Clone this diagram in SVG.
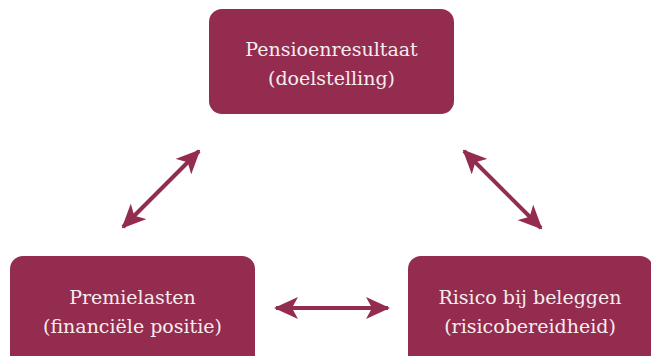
<svg xmlns="http://www.w3.org/2000/svg" width="651" height="356" viewBox="0 0 651 356">
<style>
.box{fill:#932c4e;}
.t{font-family:'DejaVu Serif',serif;font-size:19px;fill:#f6ecef;text-anchor:middle;}
.c{stroke:#932c4e;stroke-width:4;fill:none;marker-start:url(#ah);marker-end:url(#ah);}
</style>
<defs>
<marker id="ah" viewBox="0 0 24 22" refX="22" refY="11" markerWidth="24" markerHeight="22" markerUnits="userSpaceOnUse" orient="auto-start-reverse">
<path d="M0,0 L24,11 L0,22 L6,11 z" fill="#932c4e"/>
</marker>
</defs>
<g id="top">
<rect class="box" x="209" y="9" width="245" height="105" rx="13"/>
<text class="t" x="331.5" y="56">Pensioenresultaat</text>
<text class="t" x="331.5" y="85">(doelstelling)</text>
</g>
<g id="left">
<rect class="box" x="10" y="256" width="245" height="115" rx="13"/>
<text class="t" x="132.5" y="304">Premielasten</text>
<text class="t" x="132.5" y="333">(financiële positie)</text>
</g>
<g id="right">
<rect class="box" x="408" y="256" width="245" height="115" rx="13"/>
<text class="t" x="530" y="304">Risico bij beleggen</text>
<text class="t" x="530" y="333">(risicobereidheid)</text>
</g>
<g id="connectors">
<line class="c" x1="123" y1="227" x2="199" y2="151"/>
<line class="c" x1="464" y1="151" x2="541" y2="228"/>
<line class="c" x1="276" y1="308" x2="388" y2="308"/>
</g>
</svg>
